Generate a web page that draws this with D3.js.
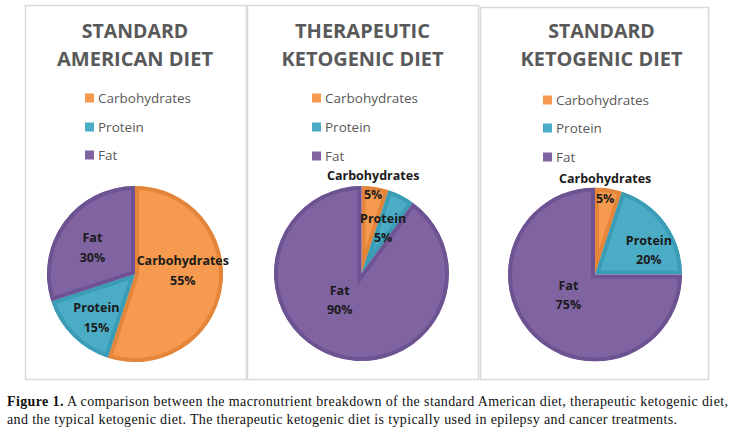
<!DOCTYPE html>
<html>
<head>
<meta charset="utf-8">
<script src="https://cdn.jsdelivr.net/npm/d3@7"></script>
<style>
  html, body { margin: 0; padding: 0; background: #fff; }
  svg { display: block; }
</style>
</head>
<body>
<svg id="chart" width="738" height="436"></svg>
<script>
// ---------- data ----------
const categories = ["Carbohydrates", "Protein", "Fat"];
const panelTitles = [
  ["STANDARD", "AMERICAN DIET"],
  ["THERAPEUTIC", "KETOGENIC DIET"],
  ["STANDARD", "KETOGENIC DIET"]
];
const standardAmerican = [55, 15, 30];
const therapeuticKeto = [5, 5, 90];
const standardKeto = [5, 20, 75];
const captionBold = "Figure 1.";
const captionLine1 = " A comparison between the macronutrient breakdown of the standard American diet, therapeutic ketogenic diet,";
const captionLine2 = "and the typical ketogenic diet. The therapeutic ketogenic diet is typically used in epilepsy and cancer treatments.";

// ---------- layout / style ----------
const fills = ["#F59A4E", "#4BACC6", "#8064A2"];
const edges = ["#E4853A", "#3B9CB6", "#6E5392"];
const panels = [
  { x0: 25, x1: 246, y0: 5, y1: 379, cx: 135, cy: 274, r: 88, titleX: 135, titleW: [106, 156],
    legX: 85, legY: [98, 127, 155],
    labK: [0.55, 0.62, 0.57], nudge: [[0, -11], [0, 5], [-2, 3]] },
  { x0: 247, x1: 478, y0: 5, y1: 379, cx: 361.5, cy: 273.5, r: 87.5, titleX: 362.5, titleW: [135, 162],
    legX: 312, legY: [98, 127, 156],
    labK: [1.0, 0.57, 0.4], nudge: [[-2, -2], [-1, -1], [-11, -7]] },
  { x0: 480, x1: 708, y0: 7, y1: 379, cx: 595, cy: 274.5, r: 87, titleX: 601.5, titleW: [106, 162],
    legX: 543, legY: [100, 128, 157],
    labK: [1.0, 0.68, 0.4], nudge: [[-3.5, 0], [6, 10], [-2, -4]] }
];
const series = [standardAmerican, therapeuticKeto, standardKeto];

const svg = d3.select("#chart");
const defs = svg.append("defs");

const pie = d3.pie().sort(null).value(d => d.value).startAngle(0).endAngle(2 * Math.PI);

function fitText(sel, target) {
  const n = sel.node();
  const w = n.getComputedTextLength();
  if (Math.abs(w - target) > 1) sel.attr("textLength", target).attr("lengthAdjust", "spacingAndGlyphs");
}

panels.forEach((p, pi) => {
  const g = svg.append("g");
  // panel border
  g.append("rect")
    .attr("x", p.x0 + 0.5).attr("y", p.y0 + 0.5)
    .attr("width", p.x1 - p.x0).attr("height", p.y1 - p.y0)
    .attr("fill", "#fff").attr("stroke", "#D9D9D9").attr("stroke-width", 1.5);

  // title
  panelTitles[pi].forEach((line, li) => {
    const t = g.append("text")
      .attr("x", p.titleX).attr("y", li === 0 ? 38 : 66)
      .attr("text-anchor", "middle")
      .attr("font-family", "'Open Sans', sans-serif")
      .attr("font-weight", 700).attr("font-size", 19.5)
      .attr("fill", "#595959")
      .text(line);
    fitText(t, p.titleW[li]);
  });

  // legend
  categories.forEach((c, ci) => {
    g.append("rect")
      .attr("x", p.legX).attr("y", p.legY[ci] - 4.5)
      .attr("width", 9).attr("height", 9)
      .attr("fill", fills[ci]);
    const t = g.append("text")
      .attr("x", p.legX + 13).attr("y", p.legY[ci])
      .attr("dy", "0.35em")
      .attr("font-family", "'Open Sans', sans-serif")
      .attr("font-size", 13.5).attr("fill", "#595959")
      .text(c);
  });

  // pie
  const data = categories.map((c, i) => ({ name: c, value: series[pi][i], idx: i }));
  const arcs = pie(data);
  const arc = d3.arc().innerRadius(0).outerRadius(p.r);
  const pg = g.append("g").attr("transform", `translate(${p.cx},${p.cy})`);

  arcs.forEach((a, ai) => {
    const id = `clip-${pi}-${ai}`;
    defs.append("clipPath").attr("id", id)
      .append("path").attr("d", arc(a));
    pg.append("path")
      .attr("d", arc(a))
      .attr("fill", fills[a.data.idx])
      .attr("stroke", edges[a.data.idx])
      .attr("stroke-width", 8)
      .attr("stroke-linejoin", "miter")
      .attr("clip-path", `url(#${id})`);
  });

  // data labels
  arcs.forEach((a, ai) => {
    const k = p.labK[ai];
    const la = d3.arc().innerRadius(p.r * k).outerRadius(p.r * k);
    const [x, y] = la.centroid(a);
    const lx = p.cx + x + p.nudge[ai][0];
    const ly = p.cy + y + p.nudge[ai][1];
    const t = g.append("text")
      .attr("text-anchor", "middle")
      .attr("font-family", "'Open Sans', sans-serif")
      .attr("font-weight", 700).attr("font-size", 12.5)
      .attr("fill", "#1a1a1a");
    t.append("tspan").attr("x", lx).attr("y", ly - 9.5).attr("dy", "0.35em").text(a.data.name);
    t.append("tspan").attr("x", lx).attr("y", ly + 10).attr("dy", "0.35em").text(a.data.value + "%");
  });
});

// caption
const c1 = svg.append("text")
  .attr("x", 7).attr("y", 406)
  .attr("font-family", "'Liberation Serif', 'Times New Roman', serif")
  .attr("font-size", 14).attr("fill", "#111");
c1.append("tspan").attr("font-weight", 700).text(captionBold);
c1.append("tspan").text(captionLine1);
c1.attr("textLength", 721).attr("lengthAdjust", "spacing");

const c2 = svg.append("text")
  .attr("x", 7).attr("y", 424)
  .attr("font-family", "'Liberation Serif', 'Times New Roman', serif")
  .attr("font-size", 14).attr("fill", "#111")
  .text(captionLine2);
c2.attr("textLength", 670).attr("lengthAdjust", "spacing");
</script>
</body>
</html>
